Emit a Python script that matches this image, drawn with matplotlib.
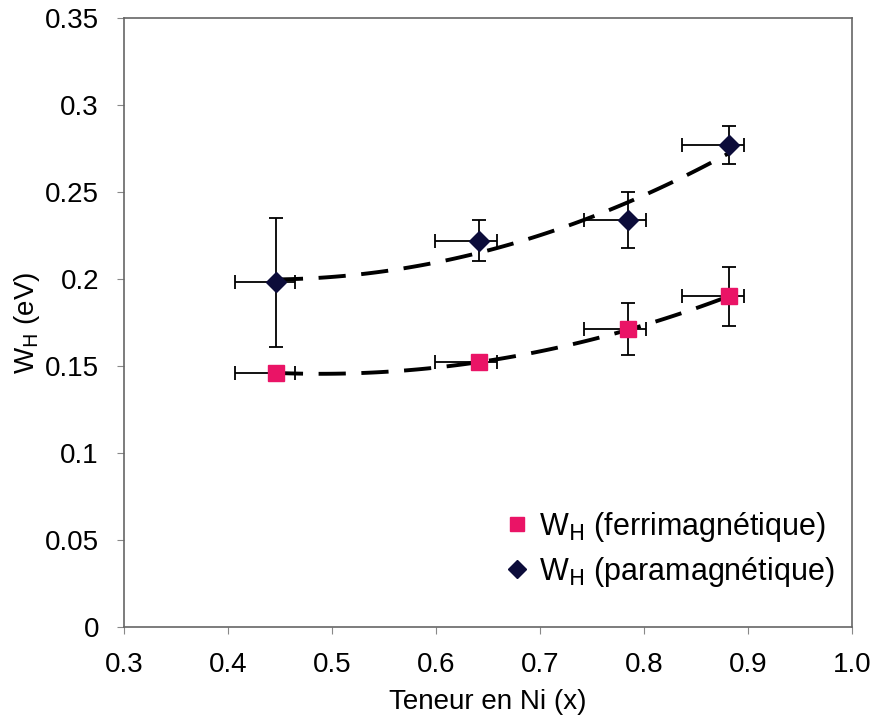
import numpy as np
import matplotlib
matplotlib.use("Agg")
import matplotlib.pyplot as plt

plt.rcParams['font.family'] = ['Liberation Sans', 'DejaVu Sans']

# teneur en Ni
x_ni = [0.446, 0.641, 0.785, 0.882]
xerr_moins = [0.039, 0.042, 0.043, 0.045]
xerr_plus = [0.018, 0.018, 0.017, 0.014]

# W_H ferrimagnetique
wh_ferri = [0.146, 0.152, 0.171, 0.190]
wh_ferri_err = [0.002, 0.003, 0.015, 0.017]

# W_H paramagnetique
wh_para = [0.198, 0.222, 0.234, 0.277]
wh_para_err = [0.037, 0.012, 0.016, 0.011]

fig = plt.figure(figsize=(8.75, 7.21), dpi=100)
ax = fig.add_axes([0.1417, 0.1304, 0.832, 0.845])

# courbes de tendance (polynome ordre 2)
xs = np.linspace(min(x_ni), max(x_ni), 100)
for y in (wh_ferri, wh_para):
    p = np.polyfit(x_ni, y, 2)
    ax.plot(xs, np.polyval(p, xs), color='black', lw=2.8, dashes=(7, 4), zorder=2)

ax.errorbar(x_ni, wh_ferri, xerr=[xerr_moins, xerr_plus], yerr=wh_ferri_err,
            fmt='none', ecolor='black', elinewidth=1.3, capsize=5, capthick=1.3, zorder=3)
ax.errorbar(x_ni, wh_para, xerr=[xerr_moins, xerr_plus], yerr=wh_para_err,
            fmt='none', ecolor='black', elinewidth=1.3, capsize=5, capthick=1.3, zorder=3)

ax.plot(x_ni, wh_ferri, 's', color='#ea1466', ms=11, ls='none',
        label=r'W$_\mathrm{H}$ (ferrimagnétique)', zorder=4)
ax.plot(x_ni, wh_para, 'D', color='#0c0c3a', ms=10, ls='none',
        label=r'W$_\mathrm{H}$ (paramagnétique)', zorder=4)

ax.set_xlim(0.3, 1.0)
ax.set_ylim(0, 0.35)
ax.set_xticks(np.arange(0.3, 1.01, 0.1))
ax.set_xticklabels(['0.3', '0.4', '0.5', '0.6', '0.7', '0.8', '0.9', '1.0'])
ax.set_yticks(np.arange(0, 0.351, 0.05))
ax.set_yticklabels(['0', '0.05', '0.1', '0.15', '0.2', '0.25', '0.3', '0.35'])
ax.tick_params(direction='out', length=5, color='#888888', labelsize=20)
ax.tick_params(axis='x', pad=13)
ax.tick_params(axis='y', pad=13)
for s in ax.spines.values():
    s.set_color('#666666')
    s.set_linewidth(1.2)

ax.set_xlabel('Teneur en Ni (x)', fontsize=20, labelpad=8)
ax.set_ylabel(r'W$_\mathrm{H}$ (eV)', fontsize=20, labelpad=2)

ax.legend(loc='lower right', bbox_to_anchor=(1.013, 0.018), frameon=False, fontsize=22,
          handletextpad=0.2, labelspacing=0.35, handlelength=1.0, markerscale=0.9)

fig.savefig('out.png', dpi=100)
